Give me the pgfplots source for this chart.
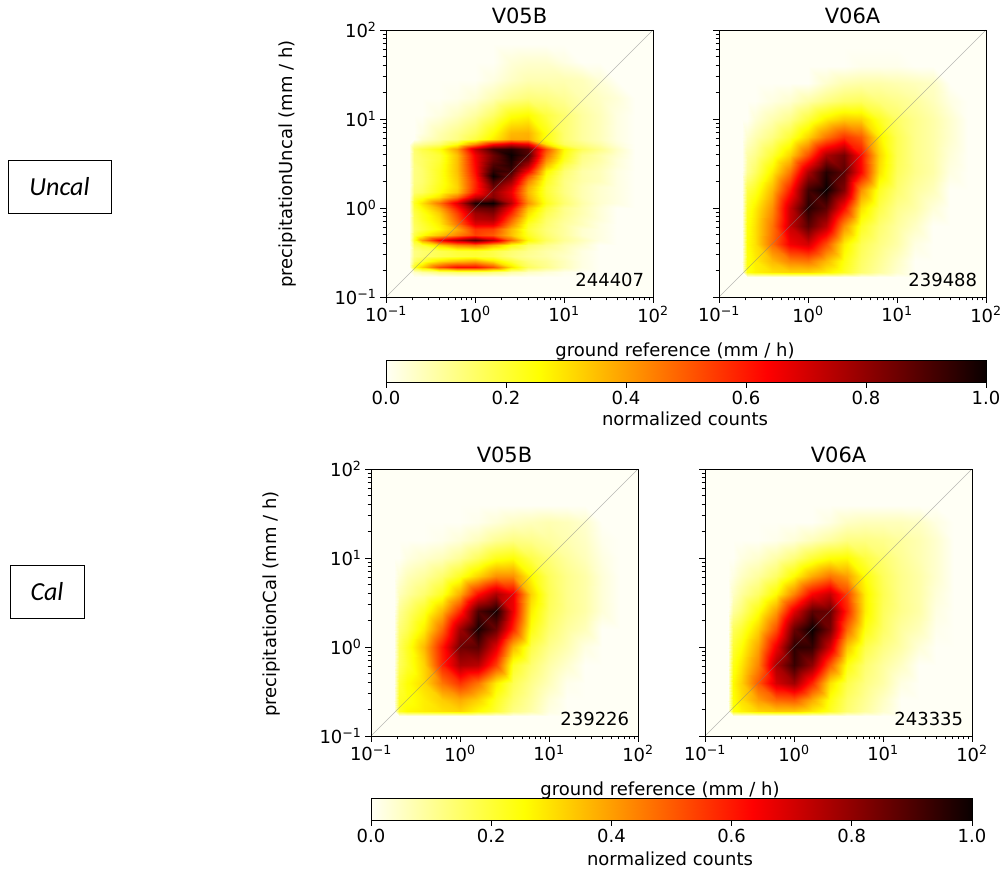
\documentclass[border=0pt]{standalone}
\usepackage{fontspec}
\setmainfont{DejaVu Sans}
\newfontfamily\boxfont{Carlito}
\usepackage{pgfplots}
\pgfplotsset{compat=1.18}
\newcommand\fs{\fontsize{18pt}{20pt}\selectfont}
\definecolor{ivory}{RGB}{255,255,245}
\pgfplotsset{
  colormap={hotr}{rgb255(0pt)=(255,255,245); rgb255(255pt)=(255,255,0); rgb255(635pt)=(255,0,0); rgb255(1000pt)=(10,0,0)},
  /pgfplots/table/grid15/.style={row sep=crcr, header=false, meta index=0,
    x expr={10^max(-0.74+0.06*mod(\coordindex,15),-0.6+0.2*(mod(\coordindex,15)-2))},
    y expr={10^max(-0.78+0.06*floor(\coordindex/15),-0.6+0.2*(floor(\coordindex/15)-2))}},
  /pgfplots/table/gridA/.style={row sep=crcr, header=false, meta index=0,
    x expr={10^max(-0.74+0.06*mod(\coordindex,15),-0.6+0.2*(mod(\coordindex,15)-2))},
    y expr={10^max(-0.78+0.06*floor(\coordindex/15),0.84+0.2*(floor(\coordindex/15)-27))}},
  heatmap/.style={surf, shader=interp, mesh/cols=15, point meta=explicit},
  heatpanel/.style={
    scale only axis, width=267pt, height=267pt,
    xmin=0.1, xmax=100, ymin=0.1, ymax=100,
    axis background/.style={fill=ivory},
    colormap name=hotr, point meta min=0, point meta max=100,
    axis on top, tick pos=left, tick align=outside,
    tick style={black, line width=0.8pt},
    major tick length=6pt, minor tick length=3.5pt,
    axis line style={line width=0.8pt, black},
    xtick={0.1,1,10,100}, ytick={0.1,1,10,100},
    minor xtick={0.2,0.3,0.4,0.5,0.6,0.7,0.8,0.9,2,3,4,5,6,7,8,9,20,30,40,50,60,70,80,90},
    minor ytick={0.2,0.3,0.4,0.5,0.6,0.7,0.8,0.9,2,3,4,5,6,7,8,9,20,30,40,50,60,70,80,90},
    xticklabels={10\textsuperscript{−1},10\textsuperscript{0},10\textsuperscript{1},10\textsuperscript{2}},
    yticklabels={10\textsuperscript{−1},10\textsuperscript{0},10\textsuperscript{1},10\textsuperscript{2}},
    tick label style={font=\fs},
    title style={font=\fontsize{21pt}{24pt}\selectfont, yshift=-3pt},
  },
  nolab/.style={yticklabels={}},
  diag/.style={gray, line width=0.4pt, opacity=0.55},
  cbar/.style={
    scale only axis, width=600pt, height=22pt,
    xmin=0, xmax=1, ymin=0, ymax=1, ytick=\empty,
    colormap name=hotr, point meta min=0, point meta max=1,
    axis on top, tick align=outside, xtick pos=bottom,
    tick style={black, line width=0.8pt}, major tick length=6pt,
    axis line style={line width=0.8pt, black},
    xtick={0,0.2,0.4,0.6,0.8,1}, xticklabels={0.0,0.2,0.4,0.6,0.8,1.0},
    tick label style={font=\fs},
  },
}
\begin{document}
\begin{tikzpicture}
\path[use as bounding box] (0pt,0pt) rectangle (1003pt,869pt);

% row labels
\node[draw=black, line width=0.9pt, minimum width=103pt, minimum height=53pt, inner sep=0pt, font=\boxfont\itshape\fontsize{26pt}{30pt}\selectfont] at (59.5pt,682.5pt) {Uncal};
\node[draw=black, line width=0.9pt, minimum width=74pt, minimum height=53pt, inner sep=0pt, font=\boxfont\itshape\fontsize{26pt}{30pt}\selectfont] at (47pt,277.5pt) {Cal};

% top left
\begin{loglogaxis}[heatpanel, at={(386pt,572pt)}, anchor=south west, title={V05B}]
\addplot[heatmap] table[gridA] {
0\\ 0\\ 0\\ 0\\ 0\\ 0\\ 0\\ 0\\ 0\\ 0\\ 0\\ 0\\ 0\\ 0\\ 0\\
0\\ 5\\ 8\\ 12\\ 14\\ 14\\ 12\\ 8\\ 5\\ 3\\ 1\\ 0\\ 0\\ 0\\ 0\\
0\\ 22\\ 32\\ 52\\ 62\\ 62\\ 52\\ 30\\ 16\\ 11\\ 6\\ 2\\ 0\\ 0\\ 0\\
0\\ 15\\ 20\\ 30\\ 35\\ 38\\ 30\\ 20\\ 13\\ 10\\ 6\\ 2\\ 0\\ 0\\ 0\\
0\\ 12\\ 14\\ 17\\ 19\\ 20\\ 18\\ 13\\ 10\\ 8\\ 5\\ 2\\ 0\\ 0\\ 0\\
0\\ 12\\ 14\\ 17\\ 20\\ 21\\ 18\\ 14\\ 11\\ 8\\ 6\\ 2\\ 0\\ 0\\ 0\\
0\\ 16\\ 20\\ 32\\ 42\\ 46\\ 36\\ 24\\ 15\\ 11\\ 7\\ 4\\ 0\\ 0\\ 0\\
0\\ 22\\ 40\\ 64\\ 76\\ 88\\ 74\\ 48\\ 26\\ 16\\ 10\\ 6\\ 2\\ 0\\ 0\\
0\\ 18\\ 25\\ 34\\ 44\\ 54\\ 50\\ 35\\ 22\\ 14\\ 9\\ 4\\ 2\\ 0\\ 0\\
0\\ 15\\ 19\\ 26\\ 38\\ 56\\ 54\\ 36\\ 20\\ 13\\ 9\\ 4\\ 2\\ 0\\ 0\\
0\\ 16\\ 20\\ 28\\ 46\\ 68\\ 68\\ 44\\ 22\\ 14\\ 9\\ 6\\ 2\\ 0\\ 0\\
0\\ 17\\ 22\\ 30\\ 50\\ 74\\ 76\\ 50\\ 26\\ 15\\ 10\\ 6\\ 3\\ 0\\ 0\\
0\\ 18\\ 23\\ 33\\ 54\\ 78\\ 82\\ 58\\ 30\\ 17\\ 11\\ 7\\ 3\\ 0\\ 0\\
0\\ 20\\ 26\\ 38\\ 60\\ 85\\ 88\\ 64\\ 34\\ 19\\ 11\\ 7\\ 3\\ 0\\ 0\\
0\\ 22\\ 30\\ 46\\ 68\\ 97\\ 100\\ 74\\ 42\\ 23\\ 14\\ 8\\ 4\\ 2\\ 0\\
0\\ 18\\ 22\\ 30\\ 46\\ 72\\ 82\\ 68\\ 38\\ 21\\ 13\\ 7\\ 4\\ 2\\ 0\\
0\\ 14\\ 16\\ 24\\ 34\\ 60\\ 80\\ 66\\ 36\\ 20\\ 12\\ 7\\ 4\\ 2\\ 0\\
0\\ 13\\ 15\\ 23\\ 32\\ 58\\ 85\\ 70\\ 38\\ 20\\ 12\\ 7\\ 4\\ 2\\ 0\\
0\\ 12\\ 14\\ 22\\ 33\\ 58\\ 92\\ 78\\ 44\\ 22\\ 12\\ 8\\ 6\\ 2\\ 0\\
0\\ 12\\ 14\\ 22\\ 34\\ 60\\ 100\\ 85\\ 52\\ 24\\ 13\\ 8\\ 6\\ 2\\ 0\\
0\\ 12\\ 14\\ 22\\ 35\\ 62\\ 95\\ 92\\ 64\\ 27\\ 14\\ 8\\ 6\\ 2\\ 0\\
0\\ 12\\ 15\\ 21\\ 35\\ 63\\ 90\\ 96\\ 76\\ 36\\ 18\\ 10\\ 7\\ 3\\ 0\\
0\\ 13\\ 15\\ 20\\ 35\\ 64\\ 86\\ 98\\ 84\\ 42\\ 22\\ 11\\ 8\\ 3\\ 0\\
0\\ 13\\ 16\\ 20\\ 35\\ 65\\ 85\\ 100\\ 90\\ 47\\ 24\\ 12\\ 8\\ 4\\ 0\\
0\\ 14\\ 18\\ 24\\ 40\\ 72\\ 92\\ 96\\ 88\\ 52\\ 26\\ 16\\ 11\\ 5\\ 0\\
0\\ 8\\ 10\\ 14\\ 24\\ 42\\ 62\\ 70\\ 65\\ 30\\ 16\\ 12\\ 8\\ 3\\ 0\\
0\\ 0\\ 4\\ 8\\ 12\\ 19\\ 28\\ 38\\ 38\\ 24\\ 14\\ 9\\ 6\\ 2\\ 0\\
0\\ 0\\ 2\\ 7\\ 11\\ 16\\ 25\\ 36\\ 37\\ 24\\ 14\\ 9\\ 6\\ 2\\ 0\\
0\\ 0\\ 0\\ 2\\ 5\\ 9\\ 15\\ 24\\ 26\\ 19\\ 14\\ 9\\ 6\\ 2\\ 0\\
0\\ 0\\ 0\\ 0\\ 1\\ 3\\ 7\\ 11\\ 13\\ 12\\ 10\\ 7\\ 5\\ 3\\ 0\\
0\\ 0\\ 0\\ 0\\ 0\\ 0\\ 2\\ 5\\ 7\\ 7\\ 7\\ 6\\ 3\\ 0\\ 0\\
0\\ 0\\ 0\\ 0\\ 0\\ 0\\ 0\\ 3\\ 4\\ 4\\ 2\\ 0\\ 0\\ 0\\ 0\\
0\\ 0\\ 0\\ 0\\ 0\\ 0\\ 0\\ 0\\ 0\\ 0\\ 0\\ 0\\ 0\\ 0\\ 0\\
};
\addplot[diag] coordinates {(0.1,0.1) (100,100)};
\node[font=\fs, anchor=base east] at (axis description cs:0.98,0.04) {244407};
\end{loglogaxis}

% top right
\begin{loglogaxis}[heatpanel, nolab, at={(719pt,572pt)}, anchor=south west, title={V06A}]
\addplot[heatmap] table[grid15] {
0\\ 0\\ 0\\ 0\\ 0\\ 0\\ 0\\ 0\\ 0\\ 0\\ 0\\ 0\\ 0\\ 0\\ 0\\
0\\ 24\\ 27\\ 30\\ 32\\ 32\\ 28\\ 22\\ 14\\ 9\\ 4\\ 0\\ 0\\ 0\\ 0\\
0\\ 24\\ 28\\ 36\\ 44\\ 46\\ 36\\ 24\\ 15\\ 10\\ 5\\ 0\\ 0\\ 0\\ 0\\
0\\ 25\\ 30\\ 47\\ 65\\ 70\\ 52\\ 28\\ 17\\ 12\\ 8\\ 2\\ 0\\ 0\\ 0\\
0\\ 24\\ 30\\ 46\\ 72\\ 88\\ 74\\ 42\\ 22\\ 14\\ 9\\ 5\\ 0\\ 0\\ 0\\
0\\ 22\\ 28\\ 42\\ 72\\ 96\\ 88\\ 62\\ 30\\ 18\\ 11\\ 8\\ 3\\ 0\\ 0\\
0\\ 18\\ 22\\ 36\\ 60\\ 92\\ 100\\ 82\\ 42\\ 22\\ 14\\ 9\\ 6\\ 0\\ 0\\
0\\ 10\\ 15\\ 28\\ 46\\ 76\\ 96\\ 88\\ 63\\ 30\\ 16\\ 11\\ 8\\ 2\\ 0\\
0\\ 8\\ 11\\ 20\\ 32\\ 52\\ 76\\ 84\\ 62\\ 32\\ 17\\ 11\\ 8\\ 3\\ 0\\
0\\ 4\\ 7\\ 12\\ 20\\ 32\\ 46\\ 56\\ 50\\ 28\\ 17\\ 11\\ 8\\ 4\\ 0\\
0\\ 0\\ 3\\ 7\\ 11\\ 19\\ 28\\ 33\\ 32\\ 22\\ 15\\ 11\\ 8\\ 4\\ 0\\
0\\ 0\\ 0\\ 2\\ 4\\ 8\\ 12\\ 15\\ 16\\ 13\\ 11\\ 9\\ 6\\ 2\\ 0\\
0\\ 0\\ 0\\ 0\\ 0\\ 0\\ 4\\ 7\\ 8\\ 8\\ 7\\ 6\\ 5\\ 0\\ 0\\
0\\ 0\\ 0\\ 0\\ 0\\ 0\\ 0\\ 0\\ 1\\ 1\\ 1\\ 0\\ 0\\ 0\\ 0\\
0\\ 0\\ 0\\ 0\\ 0\\ 0\\ 0\\ 0\\ 0\\ 0\\ 0\\ 0\\ 0\\ 0\\ 0\\
};
\addplot[diag] coordinates {(0.1,0.1) (100,100)};
\node[font=\fs, anchor=base east] at (axis description cs:0.98,0.04) {239488};
\end{loglogaxis}

% bottom left
\begin{loglogaxis}[heatpanel, at={(371pt,133pt)}, anchor=south west, title={V05B}]
\addplot[heatmap] table[grid15] {
0\\ 0\\ 0\\ 0\\ 0\\ 0\\ 0\\ 0\\ 0\\ 0\\ 0\\ 0\\ 0\\ 0\\ 0\\
0\\ 22\\ 26\\ 28\\ 30\\ 32\\ 26\\ 20\\ 12\\ 8\\ 2\\ 0\\ 0\\ 0\\ 0\\
0\\ 22\\ 24\\ 28\\ 33\\ 38\\ 32\\ 22\\ 14\\ 9\\ 3\\ 0\\ 0\\ 0\\ 0\\
0\\ 20\\ 25\\ 31\\ 46\\ 56\\ 46\\ 28\\ 17\\ 11\\ 6\\ 1\\ 0\\ 0\\ 0\\
0\\ 16\\ 21\\ 32\\ 58\\ 76\\ 74\\ 54\\ 22\\ 14\\ 8\\ 4\\ 0\\ 0\\ 0\\
0\\ 16\\ 22\\ 36\\ 60\\ 85\\ 88\\ 68\\ 36\\ 18\\ 11\\ 7\\ 2\\ 0\\ 0\\
0\\ 13\\ 17\\ 28\\ 48\\ 78\\ 98\\ 86\\ 58\\ 24\\ 14\\ 9\\ 6\\ 0\\ 0\\
0\\ 10\\ 14\\ 22\\ 36\\ 58\\ 90\\ 98\\ 66\\ 28\\ 16\\ 11\\ 8\\ 3\\ 0\\
0\\ 6\\ 9\\ 14\\ 22\\ 38\\ 62\\ 76\\ 66\\ 32\\ 17\\ 11\\ 8\\ 3\\ 0\\
0\\ 3\\ 6\\ 9\\ 14\\ 22\\ 32\\ 42\\ 42\\ 26\\ 16\\ 11\\ 8\\ 3\\ 0\\
0\\ 0\\ 2\\ 4\\ 6\\ 10\\ 16\\ 23\\ 25\\ 18\\ 13\\ 9\\ 6\\ 2\\ 0\\
0\\ 0\\ 0\\ 0\\ 1\\ 3\\ 6\\ 10\\ 12\\ 11\\ 9\\ 7\\ 5\\ 1\\ 0\\
0\\ 0\\ 0\\ 0\\ 0\\ 0\\ 1\\ 3\\ 5\\ 6\\ 7\\ 6\\ 4\\ 0\\ 0\\
0\\ 0\\ 0\\ 0\\ 0\\ 0\\ 0\\ 0\\ 0\\ 0\\ 0\\ 0\\ 0\\ 0\\ 0\\
0\\ 0\\ 0\\ 0\\ 0\\ 0\\ 0\\ 0\\ 0\\ 0\\ 0\\ 0\\ 0\\ 0\\ 0\\
};
\addplot[diag] coordinates {(0.1,0.1) (100,100)};
\node[font=\fs, anchor=base east] at (axis description cs:0.98,0.04) {239226};
\end{loglogaxis}

% bottom right
\begin{loglogaxis}[heatpanel, nolab, at={(705pt,133pt)}, anchor=south west, title={V06A}]
\addplot[heatmap] table[grid15] {
0\\ 0\\ 0\\ 0\\ 0\\ 0\\ 0\\ 0\\ 0\\ 0\\ 0\\ 0\\ 0\\ 0\\ 0\\
0\\ 24\\ 27\\ 32\\ 34\\ 34\\ 29\\ 22\\ 14\\ 9\\ 4\\ 0\\ 0\\ 0\\ 0\\
0\\ 25\\ 30\\ 40\\ 48\\ 50\\ 38\\ 24\\ 15\\ 10\\ 5\\ 0\\ 0\\ 0\\ 0\\
0\\ 26\\ 32\\ 50\\ 70\\ 78\\ 58\\ 30\\ 18\\ 12\\ 8\\ 2\\ 0\\ 0\\ 0\\
0\\ 23\\ 29\\ 44\\ 76\\ 93\\ 80\\ 50\\ 24\\ 14\\ 9\\ 5\\ 0\\ 0\\ 0\\
0\\ 20\\ 25\\ 39\\ 66\\ 95\\ 94\\ 70\\ 34\\ 18\\ 12\\ 8\\ 3\\ 0\\ 0\\
0\\ 16\\ 20\\ 32\\ 52\\ 86\\ 100\\ 84\\ 48\\ 24\\ 15\\ 9\\ 6\\ 1\\ 0\\
0\\ 9\\ 13\\ 24\\ 40\\ 68\\ 88\\ 86\\ 58\\ 28\\ 16\\ 11\\ 8\\ 2\\ 0\\
0\\ 5\\ 9\\ 15\\ 26\\ 44\\ 64\\ 72\\ 54\\ 28\\ 17\\ 11\\ 8\\ 3\\ 0\\
0\\ 2\\ 5\\ 9\\ 15\\ 26\\ 38\\ 46\\ 40\\ 25\\ 16\\ 11\\ 8\\ 4\\ 0\\
0\\ 0\\ 2\\ 4\\ 8\\ 13\\ 20\\ 25\\ 26\\ 19\\ 14\\ 10\\ 7\\ 4\\ 0\\
0\\ 0\\ 0\\ 0\\ 1\\ 3\\ 6\\ 9\\ 12\\ 12\\ 11\\ 9\\ 7\\ 4\\ 0\\
0\\ 0\\ 0\\ 0\\ 0\\ 0\\ 0\\ 2\\ 5\\ 6\\ 6\\ 6\\ 5\\ 2\\ 0\\
0\\ 0\\ 0\\ 0\\ 0\\ 0\\ 0\\ 0\\ 0\\ 0\\ 0\\ 0\\ 0\\ 0\\ 0\\
0\\ 0\\ 0\\ 0\\ 0\\ 0\\ 0\\ 0\\ 0\\ 0\\ 0\\ 0\\ 0\\ 0\\ 0\\
};
\addplot[diag] coordinates {(0.1,0.1) (100,100)};
\node[font=\fs, anchor=base east] at (axis description cs:0.98,0.04) {243335};
\end{loglogaxis}

% colourbars
\begin{axis}[cbar, at={(386pt,487pt)}, anchor=south west]
\addplot[surf, shader=interp, mesh/cols=2, point meta=x] coordinates {(0,0) (1,0) (0,1) (1,1)};
\end{axis}
\begin{axis}[cbar, at={(371pt,49pt)}, anchor=south west, width=601pt]
\addplot[surf, shader=interp, mesh/cols=2, point meta=x] coordinates {(0,0) (1,0) (0,1) (1,1)};
\end{axis}

% shared labels
\node[font=\fs, rotate=90] at (288pt,705pt) {precipitationUncal (mm / h)};
\node[font=\fs, rotate=90] at (272pt,265pt) {precipitationCal (mm / h)};
\node[font=\fs] at (675pt,517pt) {ground reference (mm / h)};
\node[font=\fs] at (660pt,78pt) {ground reference (mm / h)};
\node[font=\fs] at (685pt,450pt) {normalized counts};
\node[font=\fs] at (670pt,10pt) {normalized counts};
\end{tikzpicture}
\end{document}
